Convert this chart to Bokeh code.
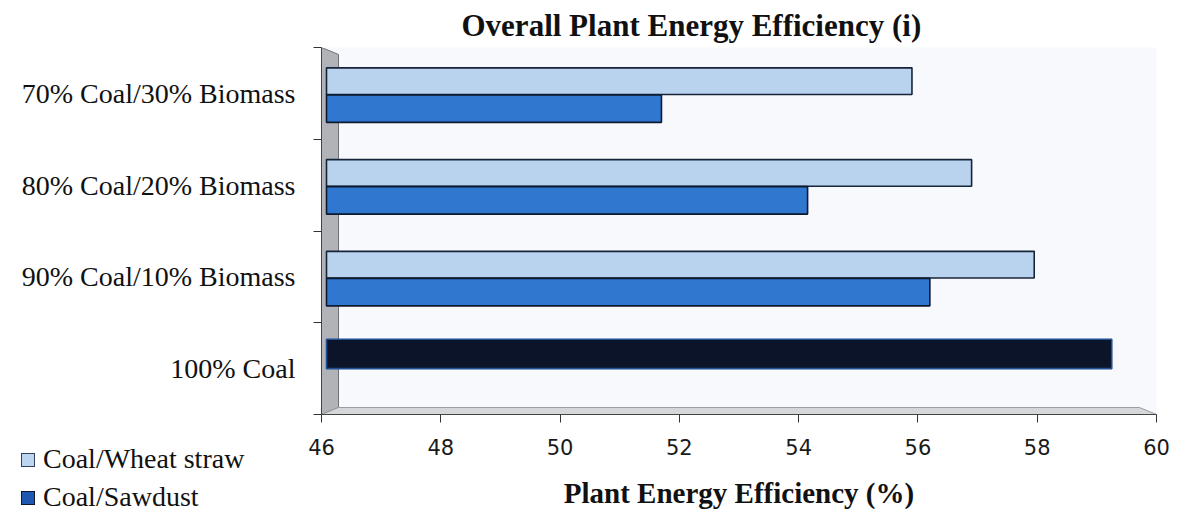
from bokeh.plotting import figure
from bokeh.layouts import column
from bokeh.models import Range1d, FixedTicker, Div
from bokeh.embed import file_html
from bokeh.resources import INLINE

# Fuel blends, bottom to top
categories = ["100% Coal", "90% Coal/10% Biomass", "80% Coal/20% Biomass", "70% Coal/30% Biomass"]
blend_categories = ["90% Coal/10% Biomass", "80% Coal/20% Biomass", "70% Coal/30% Biomass"]
# Overall plant energy efficiency (%)
wheat_straw = [57.95, 56.9, 55.9]
sawdust = [56.2, 54.15, 51.7]
coal_only = [59.25]
x_ticks = [46, 48, 50, 52, 54, 56, 58, 60]
series_names = ["Coal/Wheat straw", "Coal/Sawdust"]

WHEAT_FILL, WHEAT_LINE = "#b9d3ef", "#16243a"
SAW_FILL, SAW_LINE = "#2f77cf", "#0d1a30"

X0, X1 = 46, 60
pos = {c: i for i, c in enumerate(categories)}
px_x = (X1 - X0) / 835.0      # data units per pixel horizontally
px_y = 4.0 / 368.0            # data units per pixel vertically
depth_x = 17 * px_x           # 3D wall thickness
depth_y = 7 * px_y
bar_start = X0 + 5 * px_x

SERIF = "Liberation Serif"

p = figure(width=1178, height=513, output_backend="svg", toolbar_location=None,
           x_range=Range1d(X0, X1), y_range=Range1d(-0.5, 3.5),
           min_border_left=321, min_border_right=22, min_border_top=46, min_border_bottom=99,
           background_fill_color="#f8f9fc", border_fill_color="white",
           outline_line_color=None)
p.grid.visible = False

# 3D side wall and floor
p.patch([X0, X0 + depth_x, X0 + depth_x, X0],
        [3.5, 3.5 - depth_y, -0.5 + depth_y, -0.5],
        fill_color="#b1b3b8", line_color="#6f7277", line_width=1)
p.patch([X0, X0 + depth_x, X1 - depth_x, X1],
        [-0.5, -0.5 + depth_y, -0.5 + depth_y, -0.5],
        fill_color="#d5d7db", line_color="#9a9ca0", line_width=1)

# Bars
p.hbar(y=[pos[c] + 0.133 for c in blend_categories], left=bar_start, right=wheat_straw,
       height=0.29, fill_color=WHEAT_FILL, line_color=WHEAT_LINE, line_width=1.6)
p.hbar(y=[pos[c] - 0.166 for c in blend_categories], left=bar_start, right=sawdust,
       height=0.30, fill_color=SAW_FILL, line_color=SAW_LINE, line_width=1.6)
p.hbar(y=[pos["100% Coal"] + 0.16], left=bar_start, right=coal_only,
       height=0.32, fill_color="#0b1428", line_color="#1f4f92", line_width=1.6)

# Title
p.title.text = "Overall Plant Energy Efficiency (i)"
p.title.align = "left"
p.title.offset = 140
p.title.text_font = SERIF
p.title.text_font_size = "31px"
p.title.text_font_style = "bold"
p.title.text_color = "#111111"

# X axis
p.xaxis.ticker = FixedTicker(ticks=x_ticks)
p.xaxis.major_label_text_font = "DejaVu Sans"
p.xaxis.major_label_text_font_size = "21px"
p.xaxis.major_label_text_color = "#1a1a1a"
p.xaxis.major_tick_out = 8
p.xaxis.major_tick_in = 0
p.xaxis.minor_tick_line_color = None
p.xaxis.major_tick_line_color = "#333333"
p.xaxis.axis_line_color = "#444444"
p.xaxis.major_label_standoff = 16
p.xaxis.axis_label = "Plant Energy Efficiency (%)"
p.xaxis.axis_label_text_font = SERIF
p.xaxis.axis_label_text_font_size = "29px"
p.xaxis.axis_label_text_font_style = "bold"
p.xaxis.axis_label_text_color = "#111111"
p.xaxis.axis_label_standoff = 19

# Y axis with category names
p.yaxis.ticker = FixedTicker(ticks=[0, 1, 2, 3], minor_ticks=[-0.5, 0.5, 1.5, 2.5, 3.5])
p.yaxis.major_label_overrides = {i: c for i, c in enumerate(categories)}
p.yaxis.major_label_text_font = SERIF
p.yaxis.major_label_text_font_size = "28px"
p.yaxis.major_label_text_color = "#111111"
p.yaxis.major_tick_line_color = None
p.yaxis.major_tick_out = 0
p.yaxis.major_tick_in = 0
p.yaxis.major_label_standoff = 18
p.yaxis.minor_tick_out = 8
p.yaxis.minor_tick_in = 0
p.yaxis.minor_tick_line_color = "#333333"
p.yaxis.axis_line_color = "#444444"

# Key in the lower-left corner, laid over the chart's bottom strip
LEG_W, LEG_H = 300, 80
swatches = [("#bcd5f0", "#33445c"), ("#1f58b0", "#0d1a30")]
row_centres = [27, 65]
rows_html = ""
for name, (fill, edge), cy in zip(series_names, swatches, row_centres):
    rows_html += (
        f'<div style="position:absolute;left:21px;top:{cy - 7}px;width:14px;height:14px;'
        f'box-sizing:border-box;background:{fill};border:1.5px solid {edge};"></div>'
        f'<div style="position:absolute;left:43px;top:{cy}px;transform:translateY(-52%);'
        f'line-height:1;white-space:nowrap;">{name}</div>'
    )
key_html = (f'<div style="position:relative;width:{LEG_W}px;height:{LEG_H}px;overflow:hidden;'
            f'font-family:\'{SERIF}\';font-size:28px;color:#111111;">{rows_html}</div>')
key = Div(text=key_html, width=LEG_W, height=LEG_H, margin=(-LEG_H, 0, 0, 0))

layout = column(p, key, spacing=0)
open("out.html", "w").write(file_html(layout, INLINE))
